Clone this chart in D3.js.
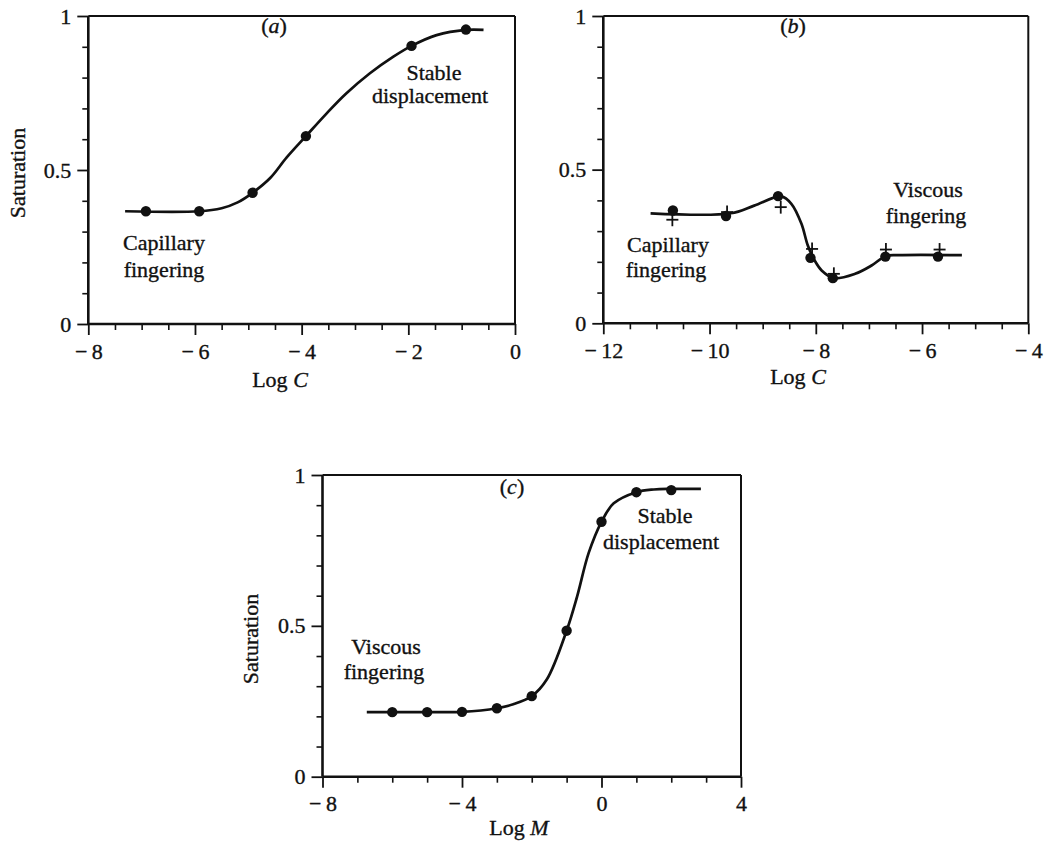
<!DOCTYPE html>
<html>
<head>
<meta charset="utf-8">
<script src="https://cdn.jsdelivr.net/npm/d3@7"></script>
<style>
  html, body { margin: 0; padding: 0; background: #fff; }
  svg { display: block; }
  text { font-family: "Liberation Serif", "Times New Roman", serif; fill: #111; stroke: #111; stroke-width: 0.35px; }
</style>
</head>
<body>
<svg id="chart" width="1046" height="843"></svg>
<script>
// ---------- data ----------
// Panel (a): saturation vs log capillary number
const aDotX = [-6.92, -5.92, -4.92, -3.92, -1.94, -0.92];
const aDotY = [0.366, 0.366, 0.426, 0.61, 0.903, 0.956];
const aCurveX = [-7.31, -5.92, -5.5, -5.2, -4.92, -4.59, -4.28, -3.92, -3.53, -3.16, -2.72, -2.28, -1.94, -1.47, -0.92, -0.59];
const aCurveY = [0.366, 0.366, 0.376, 0.395, 0.426, 0.474, 0.541, 0.61, 0.684, 0.749, 0.814, 0.868, 0.903, 0.938, 0.955, 0.955];

// Panel (b)
const bDotX = [-10.69, -9.69, -8.71, -8.1, -7.68, -6.69, -5.7];
const bDotY = [0.367, 0.349, 0.414, 0.213, 0.147, 0.217, 0.217];
const bCrossX = [-10.7, -9.67, -8.66, -8.07, -7.66, -6.68, -5.67];
const bCrossY = [0.337, 0.362, 0.378, 0.242, 0.161, 0.240, 0.240];
const bCurveX = [-11.11, -9.6, -9.16, -8.65, -8.46, -8.27, -8.15, -8.02, -7.89, -7.66, -7.26, -6.95, -6.68, -6.44, -5.25];
const bCurveY = [0.358, 0.358, 0.383, 0.413, 0.389, 0.324, 0.253, 0.204, 0.172, 0.147, 0.161, 0.188, 0.219, 0.222, 0.222];

// Panel (c): saturation vs log viscosity ratio
const cDotX = [-6, -5, -4, -3, -2, -1, 0, 1, 2];
const cDotY = [0.214, 0.214, 0.215, 0.227, 0.267, 0.484, 0.845, 0.943, 0.95];
const cCurveX = [-6.73, -6, -5, -4, -3, -2.53, -2, -1.57, -1, -0.7, -0.37, 0, 0.35, 1, 1.5, 2, 2.85];
const cCurveY = [0.214, 0.214, 0.214, 0.215, 0.227, 0.24, 0.267, 0.322, 0.484, 0.597, 0.741, 0.845, 0.906, 0.943, 0.952, 0.954, 0.954];

// ticks
const aXTicks = [-8, -6, -4, -2, 0];
const bXTicks = [-12, -10, -8, -6, -4];
const cXTicks = [-8, -4, 0, 4];
const yTicks = [0, 0.5, 1];

// ---------- drawing ----------
const svg = d3.select("#chart");
const fs = 22;
const ink = "#111";

function fmtX(v) { return v < 0 ? "\u2212\u2009" + Math.abs(v) : String(v); }
function fmtY(v) { return String(v); }

function panel(opt) {
  const x = d3.scaleLinear().domain(opt.xDomain).range([opt.left, opt.right]);
  const y = d3.scaleLinear().domain([0, 1]).range([opt.bottom, opt.top]);
  const g = svg.append("g");

  // minor x ticks
  const xMinor = d3.range(opt.xDomain[0], opt.xDomain[1] + 1e-9, opt.xMinorStep)
    .filter(v => !opt.xTicks.some(t => Math.abs(t - v) < 1e-9));
  g.append("g").attr("transform", `translate(0,${opt.bottom})`)
    .call(d3.axisBottom(x).tickValues(xMinor).tickSize(6).tickFormat(""))
    .call(s => s.select(".domain").remove())
    .selectAll("line").attr("stroke", ink).attr("stroke-width", 1.6);
  // major x ticks
  const gx = g.append("g").attr("transform", `translate(0,${opt.bottom})`)
    .call(d3.axisBottom(x).tickValues(opt.xTicks).tickSize(11).tickPadding(8).tickFormat(fmtX));
  gx.select(".domain").remove();
  gx.selectAll("line").attr("stroke", ink).attr("stroke-width", 1.8);
  gx.selectAll("text").attr("font-size", fs).attr("fill", ink)
    .style("font-family", "'Liberation Serif', serif");

  // minor y ticks
  const yMinor = d3.range(0, 1.0001, 0.1).filter(v => !yTicks.some(t => Math.abs(t - v) < 1e-6));
  g.append("g").attr("transform", `translate(${opt.left},0)`)
    .call(d3.axisLeft(y).tickValues(yMinor).tickSize(6).tickFormat(""))
    .call(s => s.select(".domain").remove())
    .selectAll("line").attr("stroke", ink).attr("stroke-width", 1.6);
  const gy = g.append("g").attr("transform", `translate(${opt.left},0)`)
    .call(d3.axisLeft(y).tickValues(yTicks).tickSize(11).tickPadding(6).tickFormat(fmtY));
  gy.select(".domain").remove();
  gy.selectAll("line").attr("stroke", ink).attr("stroke-width", 1.8);
  gy.selectAll("text").attr("font-size", fs).attr("fill", ink)
    .style("font-family", "'Liberation Serif', serif");

  // frame
  g.append("line").attr("x1", opt.left).attr("x2", opt.right).attr("y1", opt.bottom).attr("y2", opt.bottom)
    .attr("stroke", ink).attr("stroke-width", 2.6);
  g.append("line").attr("x1", opt.left).attr("x2", opt.left).attr("y1", opt.top).attr("y2", opt.bottom)
    .attr("stroke", ink).attr("stroke-width", 2.6);
  g.append("line").attr("x1", opt.left).attr("x2", opt.right).attr("y1", opt.top).attr("y2", opt.top)
    .attr("stroke", ink).attr("stroke-width", 2);
  g.append("line").attr("x1", opt.right).attr("x2", opt.right).attr("y1", opt.top).attr("y2", opt.bottom)
    .attr("stroke", ink).attr("stroke-width", 2);

  // curve
  const curve = opt.curveX.map((v, i) => [v, opt.curveY[i]]);
  g.append("path").datum(curve)
    .attr("d", d3.line().x(d => x(d[0])).y(d => y(d[1])).curve(d3.curveCatmullRom.alpha(0.5)))
    .attr("fill", "none").attr("stroke", ink).attr("stroke-width", 2.7);

  // crosses
  if (opt.crossX) {
    const cr = opt.crossX.map((v, i) => [v, opt.crossY[i]]);
    const cg = g.append("g").selectAll("g").data(cr).join("g")
      .attr("transform", d => `translate(${x(d[0])},${y(d[1])})`);
    cg.append("line").attr("x1", -6).attr("x2", 6).attr("stroke", ink).attr("stroke-width", 1.8);
    cg.append("line").attr("y1", -6.5).attr("y2", 6.5).attr("stroke", ink).attr("stroke-width", 1.8);
  }

  // dots
  const pts = opt.dotX.map((v, i) => [v, opt.dotY[i]]);
  g.append("g").selectAll("circle").data(pts).join("circle")
    .attr("cx", d => x(d[0])).attr("cy", d => y(d[1])).attr("r", 5.2).attr("fill", ink);

  // panel letter
  const lt = g.append("text").attr("x", opt.letterX).attr("y", opt.letterY)
    .attr("text-anchor", "middle").attr("font-size", fs);
  lt.append("tspan").text("(");
  lt.append("tspan").attr("font-style", "italic").text(opt.letter);
  lt.append("tspan").text(")");

  // x label
  const xl = g.append("text").attr("x", opt.xLabelX).attr("y", opt.xLabelY)
    .attr("text-anchor", "middle").attr("font-size", fs);
  xl.append("tspan").text("Log ");
  xl.append("tspan").attr("font-style", "italic").text(opt.xVar);

  // y label
  if (opt.yLabel) {
    g.append("text").attr("transform", `translate(${opt.yLabelX},${opt.yLabelY}) rotate(-90)`)
      .attr("text-anchor", "middle").attr("font-size", fs).text("Saturation");
  }

  // annotations
  opt.notes.forEach(n => {
    g.append("text").attr("x", n[0]).attr("y", n[1]).attr("text-anchor", "middle")
      .attr("font-size", fs).text(n[2]);
  });
}

panel({
  xDomain: [-8, 0], xTicks: aXTicks, xMinorStep: 0.5,
  left: 88.3, right: 515, top: 16, bottom: 324,
  dotX: aDotX, dotY: aDotY, curveX: aCurveX, curveY: aCurveY,
  letter: "a", letterX: 274, letterY: 33,
  xVar: "C", xLabelX: 280, xLabelY: 387,
  yLabel: true, yLabelX: 25, yLabelY: 173,
  notes: [[164, 250, "Capillary"], [164, 277, "fingering"], [434, 80, "Stable"], [430, 103, "displacement"]]
});

panel({
  xDomain: [-12, -4], xTicks: bXTicks, xMinorStep: 0.5,
  left: 603.3, right: 1028.3, top: 16, bottom: 323.3,
  dotX: bDotX, dotY: bDotY, crossX: bCrossX, crossY: bCrossY, curveX: bCurveX, curveY: bCurveY,
  letter: "b", letterX: 793, letterY: 33,
  xVar: "C", xLabelX: 798, xLabelY: 384,
  yLabel: false,
  notes: [[668, 252, "Capillary"], [666, 277, "fingering"], [928, 197, "Viscous"], [926, 223, "fingering"]]
});

panel({
  xDomain: [-8, 4], xTicks: cXTicks, xMinorStep: 1,
  left: 322.5, right: 741, top: 475, bottom: 776.7,
  dotX: cDotX, dotY: cDotY, curveX: cCurveX, curveY: cCurveY,
  letter: "c", letterX: 512, letterY: 494,
  xVar: "M", xLabelX: 519, xLabelY: 835,
  yLabel: true, yLabelX: 258, yLabelY: 639,
  notes: [[386, 654, "Viscous"], [384, 679, "fingering"], [665, 523, "Stable"], [661, 549, "displacement"]]
});
</script>
</body>
</html>
